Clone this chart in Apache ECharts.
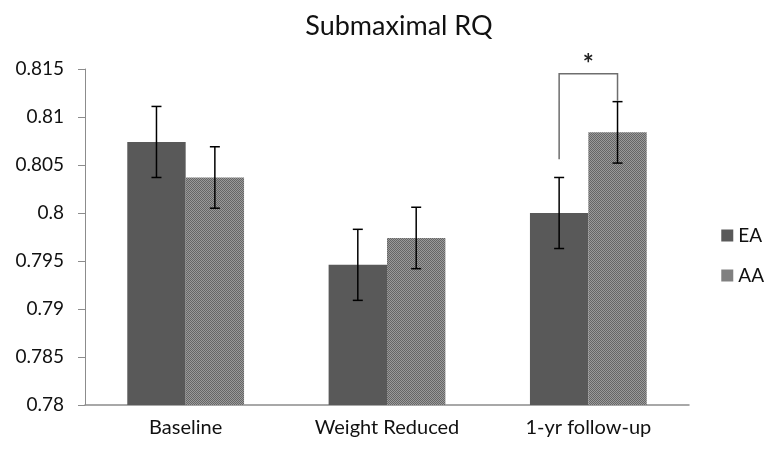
<!DOCTYPE html>
<html><head><meta charset="utf-8">
<script src="https://cdn.jsdelivr.net/npm/echarts@6/dist/echarts.min.js"></script>
<style>html,body{margin:0;padding:0;background:#fff}#c{width:767px;height:452px}</style>
</head><body><div id="c"></div>
<script>
const categories = ['Baseline', 'Weight Reduced', '1-yr follow-up'];
const seriesNames = ['EA', 'AA'];
const eaValues = [0.8074, 0.7946, 0.8000];
const aaValues = [0.8037, 0.7974, 0.8084];
const eaErrors = [0.0037, 0.0037, 0.0037];
const aaErrors = [0.0032, 0.0032, 0.0032];
const yTicks = [0.78, 0.785, 0.79, 0.795, 0.8, 0.805, 0.81, 0.815];
// significance bracket: category index, left bottom, top, right bottom
const sigBracket = [{cat: 2, leftBottom: 0.8056, top: 0.8145, rightBottom: 0.8117, label: '*'}];

const FONT = 'Lato, "Open Sans", sans-serif';
const GAP = 0.42;

function makePattern() {
  const c = document.createElement('canvas');
  c.width = 2; c.height = 2;
  const g = c.getContext('2d');
  g.fillStyle = '#9a9a9a'; g.fillRect(0, 0, 2, 2);
  g.fillStyle = '#666666'; g.fillRect(0, 0, 1, 1); g.fillRect(1, 1, 1, 1);
  return {image: c, repeat: 'repeat'};
}
const aaColor = makePattern();

function errorSeries(values, errors, side) {
  return {
    type: 'custom',
    silent: true,
    z: 5,
    data: values.map((v, i) => [i, v - errors[i], v + errors[i]]),
    renderItem: function (params, api) {
      const band = api.size([1, 0])[0];
      const bw = band * (1 - GAP) / 2;
      const lo = api.coord([api.value(0), api.value(1)]);
      const hi = api.coord([api.value(0), api.value(2)]);
      const x = lo[0] + side * bw / 2;
      const cap = 5;
      const st = {stroke: '#000', lineWidth: 1.5};
      return {type: 'group', children: [
        {type: 'line', shape: {x1: x, y1: lo[1], x2: x, y2: hi[1]}, style: st},
        {type: 'line', shape: {x1: x - cap, y1: lo[1], x2: x + cap, y2: lo[1]}, style: st},
        {type: 'line', shape: {x1: x - cap, y1: hi[1], x2: x + cap, y2: hi[1]}, style: st}
      ]};
    }
  };
}

const chart = echarts.init(document.getElementById('c'));
chart.setOption({
  animation: false,
  title: {text: 'Submaximal RQ', left: 394, textAlign: 'center', top: 8,
    textStyle: {fontFamily: FONT, fontSize: 27, fontWeight: 'normal', color: '#111'}},
  legend: {orient: 'vertical', right: 3, top: 226, padding: 0, itemWidth: 12, itemHeight: 12, itemGap: 21,
    data: seriesNames, icon: 'rect', itemStyle: {borderWidth: 0},
    textStyle: {fontFamily: FONT, fontSize: 19, lineHeight: 18, color: '#111'}},
  grid: {left: 85, right: 78, top: 69, bottom: 47},
  xAxis: {type: 'category', data: categories,
    axisLine: {lineStyle: {color: '#8c8c8c', width: 1.5}}, axisTick: {show: false},
    axisLabel: {fontFamily: FONT, fontSize: 20, color: '#111', margin: 13}},
  yAxis: {type: 'value', min: yTicks[0], max: yTicks[yTicks.length - 1], interval: 0.005,
    splitLine: {show: false},
    axisLine: {show: true, lineStyle: {color: '#8c8c8c', width: 1}},
    axisTick: {show: true, length: 7, lineStyle: {color: '#8c8c8c'}},
    axisLabel: {fontFamily: FONT, fontSize: 19, color: '#111', margin: 21,
      formatter: v => String(parseFloat(v.toFixed(3)))}},
  series: [
    {name: 'EA', type: 'bar', data: eaValues, barGap: '0%', barCategoryGap: (GAP * 100) + '%',
      itemStyle: {color: '#595959'}},
    {name: 'AA', type: 'bar', data: aaValues, itemStyle: {color: aaColor}},
    errorSeries(eaValues, eaErrors, -1),
    errorSeries(aaValues, aaErrors, 1),
    {type: 'custom', silent: true, z: 6,
      data: sigBracket.map(b => [b.cat, b.leftBottom, b.top, b.rightBottom]),
      renderItem: function (params, api) {
        const band = api.size([1, 0])[0];
        const bw = band * (1 - GAP) / 2;
        const c = api.value(0);
        const lb = api.coord([c, api.value(1)]);
        const tp = api.coord([c, api.value(2)]);
        const rb = api.coord([c, api.value(3)]);
        const xl = lb[0] - bw / 2, xr = lb[0] + bw / 2;
        const st = {stroke: '#6e6e6e', lineWidth: 1.5, fill: null};
        return {type: 'group', children: [
          {type: 'polyline', shape: {points: [[xl, lb[1]], [xl, tp[1]], [xr, tp[1]], [xr, rb[1]]]}, style: st},
          {type: 'text', x: lb[0], y: tp[1] + 4, style: {text: sigBracket[params.dataIndex].label,
            fontFamily: FONT, fontSize: 26, fontWeight: 'bold', fill: '#222', align: 'center', verticalAlign: 'bottom'}}
        ]};
      }}
  ]
});
</script></body></html>
